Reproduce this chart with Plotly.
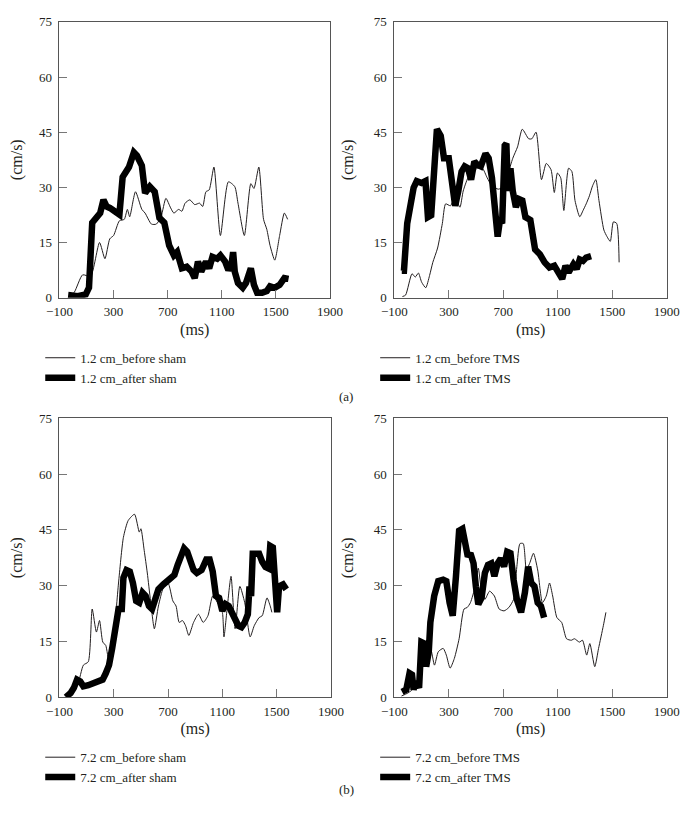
import plotly.graph_objects as go

# ---- data (ms, cm/s) ----
# (a) 1.2 cm, sham
a_sham_before_x = [-24, 10, 71, 130, 196, 236, 272, 300, 343, 379, 402, 419, 462, 509, 533, 580, 616, 651, 687,
                   722, 746, 781, 805, 829, 864, 900, 936, 959, 983, 1007, 1042, 1090, 1149, 1196, 1220, 1267,
                   1315, 1338, 1374, 1409, 1433, 1457, 1492, 1528, 1563, 1587]
a_sham_before_y = [0.4, 1.5, 6.2, 5.8, 15, 10.6, 16, 16.9, 20.9, 21.3, 24, 22, 28.8, 24, 23, 20, 20, 22, 27,
                   24.4, 23, 24, 23.5, 25.7, 26.6, 25.3, 25.7, 24.8, 28.8, 29.3, 35.5, 16.9, 31.5, 30.2, 25.7, 16.9,
                   31, 29.7, 35.5, 21.3, 18.6, 14.2, 10.2, 16.9, 23, 21.3]
a_sham_after_x = [-36, 35, 94, 118, 142, 177, 201, 225, 248, 272, 308, 343, 367, 391, 414, 450, 473, 509, 533,
                  568, 604, 639, 675, 711, 746, 770, 805, 841, 877, 900, 924, 948, 983, 1007, 1031, 1066, 1090,
                  1125, 1149, 1172, 1184, 1196, 1220, 1255, 1279, 1315, 1338, 1362, 1398, 1433, 1457, 1492, 1528,
                  1563, 1594]
a_sham_after_y = [0.7, 0.4, 0.9, 2.7, 20.4, 22.2, 23, 26.6, 24.8, 24.4, 23.5, 22.6, 32.8, 34.6, 35.5, 39.5, 38.6,
                  35.9, 28.4, 30.2, 28.8, 21.7, 20.4, 14.2, 11.5, 12.4, 8, 8.4, 7.1, 5.3, 9.8, 7.1, 9.8, 8, 11.1,
                  10.6, 11.5, 9.8, 7.5, 8.9, 12.4, 7.1, 4, 2.7, 4, 8, 3.5, 1.3, 1.3, 1.8, 3.1, 2.7, 3.5, 5.3, 5.1]

# (a) 1.2 cm, TMS
a_tms_before_x = [-41, -18, 29, 53, 76, 100, 130, 158, 182, 217, 252, 276, 311, 346, 381, 405, 440, 475, 510,
                  546, 581, 616, 663, 710, 733, 769, 804, 839, 886, 909, 940, 980, 1015, 1050, 1074, 1097, 1121,
                  1144, 1179, 1203, 1226, 1261, 1285, 1308, 1332, 1355, 1379, 1402, 1438, 1461, 1485, 1508, 1532,
                  1550]
a_tms_before_y = [0.3, 0.7, 6.5, 5.6, 6.7, 4.2, 2.7, 6, 9.6, 13.5, 20.2, 25.5, 25, 27.3, 24.6, 29, 32.6, 34.3,
                  35.2, 35.2, 32.6, 30.4, 29.5, 30.4, 33.5, 37.9, 41, 45.8, 43.2, 43.2, 45, 32.1, 36.5, 34.8, 28.6,
                  33.9, 32.6, 23.7, 35.2, 34.3, 26.4, 22, 23.7, 25.5, 27.7, 30.4, 32.1, 26.4, 18.4, 16.6, 15.3,
                  20.6, 20.2, 9.6]
a_tms_after_x = [-46, -30, -6, 17, 41, 64, 100, 128, 146, 170, 193, 212, 240, 264, 299, 323, 346, 369, 393, 416,
                 440, 463, 487, 510, 534, 569, 592, 616, 639, 658, 675, 691, 710, 722, 733, 752, 769, 792, 815,
                 839, 862, 898, 933, 968, 1003, 1038, 1074, 1109, 1132, 1156, 1179, 1214, 1238, 1261, 1285, 1308,
                 1344]
a_tms_after_y = [7.3, 7.3, 20.2, 25.5, 29.9, 31.7, 31.2, 31.7, 21.9, 22.4, 39.6, 45.8, 44, 37.9, 37.9, 31.7, 25,
                 29, 34.3, 35.7, 35.2, 32.1, 37, 36.1, 35.7, 39.2, 37.9, 32.6, 21.1, 16.6, 21.1, 20.2, 41.4, 41.9,
                 29, 35.2, 29, 24.6, 26.8, 26.4, 21.9, 21.1, 13.1, 11.8, 9.6, 8.2, 8.7, 6.9, 5.1, 8.7, 6.9, 9.1,
                 7.8, 10.4, 10, 10.9, 11.3]

# (b) 7.2 cm, sham
b_sham_before_x = [-60, -13, 34, 76, 112, 141, 172, 195, 219, 241, 265, 300, 335, 371, 406, 453, 488, 500, 524,
                   547, 571, 599, 629, 665, 700, 735, 759, 782, 806, 829, 853, 888, 924, 959, 994, 1029, 1065,
                   1100, 1112, 1135, 1164, 1194, 1229, 1265, 1305, 1335, 1371, 1394, 1429, 1453, 1465]
b_sham_before_y = [0.3, 1.6, 3.4, 8.6, 9.5, 23.7, 17.5, 20.6, 14.8, 13.9, 9.5, 16.6, 30.7, 43, 47.5, 49.2, 44.4,
                   45.3, 39.5, 33.4, 25.9, 18.4, 24.5, 29.4, 30.7, 25.9, 24.5, 20.1, 20.6, 19.2, 16.6, 20.1, 22.3,
                   20.1, 21.9, 27.2, 25.4, 22.8, 16.2, 23.7, 32.5, 18.4, 29.8, 25.4, 16.2, 19.2, 21.4, 21.9, 26.7,
                   24.5, 22.8]
b_sham_after_x = [-53, -18, 6, 29, 53, 76, 112, 147, 182, 218, 241, 265, 288, 312, 335, 359, 371, 394, 418, 441,
                  465, 488, 512, 535, 559, 582, 606, 629, 665, 688, 724, 747, 771, 794, 818, 841, 865, 888, 912,
                  947, 982, 1006, 1029, 1053, 1076, 1100, 1124, 1147, 1182, 1218, 1241, 1265, 1288, 1300, 1312,
                  1324, 1347, 1371, 1394, 1418, 1441, 1453, 1472, 1488, 1504, 1518, 1547, 1571]
b_sham_after_y = [0, 1.1, 2.5, 4.7, 4.2, 2.9, 3.2, 3.8, 4.4, 4.7, 6.4, 8.6, 13.1, 19.2, 23.7, 23.7, 32.1, 34.2,
                  33.8, 30.7, 25.9, 25.4, 28.1, 27.2, 24.5, 23.7, 26.3, 29, 30.3, 31.2, 32, 32.9, 35.6, 38.2, 40,
                  39.1, 37, 34.2, 33.4, 34.2, 37, 37, 33.8, 27.2, 26.7, 23.2, 25, 24.5, 21.9, 19.2, 18.8, 20.1,
                  22.3, 29.8, 27.2, 38.6, 38.6, 38.6, 36.4, 35, 34.6, 40.7, 40.3, 29.8, 22.8, 29.8, 30.3, 29]

# (b) 7.2 cm, TMS
b_tms_before_x = [-48, -1, 46, 81, 116, 164, 194, 222, 258, 281, 309, 340, 375, 411, 434, 458, 493, 516, 535,
                  564, 599, 634, 669, 705, 740, 775, 799, 822, 846, 869, 893, 921, 952, 987, 1015, 1039, 1062,
                  1093, 1128, 1164, 1199, 1222, 1258, 1281, 1312, 1335, 1371, 1399, 1434, 1453]
b_tms_before_y = [0.3, 1.1, 2.5, 6, 10.4, 13.1, 8.6, 12.2, 13.1, 11.3, 7.8, 10.4, 15.7, 23.7, 24.1, 25.4, 29.8,
                  34.7, 29.8, 26.3, 28.5, 27.2, 23.7, 23.2, 24.1, 26.3, 35.1, 41.3, 41.3, 34.2, 36, 38.7, 34.2,
                  25.4, 27.2, 30.7, 27.2, 21.4, 20.1, 15.7, 15.3, 15.7, 14.8, 15.3, 11.3, 14.4, 8.2, 13.1, 19.2,
                  22.8]
b_tms_after_x = [-44, -13, 11, 29, 41, 58, 81, 98, 121, 133, 152, 164, 192, 222, 258, 281, 305, 328, 352, 375,
                 399, 418, 439, 458, 481, 498, 516, 540, 564, 587, 611, 634, 658, 681, 705, 728, 752, 775, 799,
                 830, 858, 882, 905, 928, 952, 976, 999]
b_tms_after_y = [1.4, 2, 6.4, 6, 2, 4.2, 2.5, 14.8, 14.4, 8.2, 12.2, 20.1, 27.2, 31.2, 31.6, 31.2, 25.4, 21.9,
                 32.5, 44.8, 45.3, 42.2, 37.8, 38.7, 36, 29.8, 25, 26.7, 33.4, 35.6, 36, 32.5, 36, 37.3, 35.1,
                 39.1, 38.7, 31.6, 26.3, 22.8, 28.1, 35.1, 30.7, 29.8, 25.4, 24.5, 21.4]

x_ticks = [-100, 300, 700, 1100, 1500, 1900]
y_ticks = [0, 15, 30, 45, 60, 75]

panels = [
    ("1.2 cm_before sham", a_sham_before_x, a_sham_before_y, "1.2 cm_after sham", a_sham_after_x, a_sham_after_y),
    ("1.2 cm_before TMS", a_tms_before_x, a_tms_before_y, "1.2 cm_after TMS", a_tms_after_x, a_tms_after_y),
    ("7.2 cm_before sham", b_sham_before_x, b_sham_before_y, "7.2 cm_after sham", b_sham_after_x, b_sham_after_y),
    ("7.2 cm_before TMS", b_tms_before_x, b_tms_before_y, "7.2 cm_after TMS", b_tms_after_x, b_tms_after_y),
]

# the page body has an 8px margin, so the figure is drawn 8px smaller and positions are shifted
OFF = 8
W, H = 700 - OFF, 816 - OFF
FONT = "Liberation Serif"
INK = "#231f20"


def px(v):
    return v - OFF


# pixel boxes of the four plot areas in the page (left, right, top, bottom)
boxes = [(48, 329, 15, 296), (396, 679, 15, 296), (48, 330, 419, 703), (396, 679, 419, 703)]

fig = go.Figure()
layout = dict(
    width=W, height=H,
    margin=dict(l=0, r=0, t=0, b=0),
    paper_bgcolor="white", plot_bgcolor="white",
    font=dict(family=FONT, size=13, color=INK),
)

for i, (n1, x1, y1, n2, x2, y2) in enumerate(panels):
    k = "" if i == 0 else str(i + 1)
    leg = "legend" if i == 0 else f"legend{i + 1}"
    fig.add_trace(go.Scatter(x=x1, y=y1, mode="lines", name=n1,
                             line=dict(color=INK, width=1, shape="spline", smoothing=0.6),
                             xaxis="x" + k, yaxis="y" + k, legend=leg))
    fig.add_trace(go.Scatter(x=x2, y=y2, mode="lines", name=n2,
                             line=dict(color="black", width=6.5),
                             xaxis="x" + k, yaxis="y" + k, legend=leg))

    l, r, t, b = [px(v) for v in boxes[i]]
    common = dict(showline=True, linecolor="#555555", linewidth=1, mirror=True,
                  ticks="inside", ticklen=8, tickcolor="#777777", tickwidth=1,
                  showgrid=False, zeroline=False, tickfont=dict(size=13, color=INK))
    layout["xaxis" + k] = dict(domain=[l / W, r / W], range=[-100, 1900], tickvals=x_ticks,
                               ticktext=[str(v).replace("-", "\u2212") for v in x_ticks],
                               ticklabelstandoff=2,
                               anchor="y" + k, title=dict(text="(ms)", standoff=5), **common)
    layout["yaxis" + k] = dict(domain=[1 - b / H, 1 - t / H], range=[0, 75], tickvals=y_ticks,
                               ticklabelstandoff=4,
                               anchor="x" + k, title=dict(text="(cm/s)", standoff=16), **common)
    layout[leg] = dict(x=(l - 20) / W, xanchor="left", y=1 - (b + 46) / H, yanchor="top",
                       bgcolor="rgba(0,0,0,0)", font=dict(size=13), tracegroupgap=0)

layout["annotations"] = [
    dict(text="(a)", x=px(346) / W, y=1 - px(397) / H, xref="paper", yref="paper", showarrow=False,
         xanchor="center", yanchor="middle", font=dict(size=13)),
    dict(text="(b)", x=px(346) / W, y=1 - px(797) / H, xref="paper", yref="paper", showarrow=False,
         xanchor="center", yanchor="middle", font=dict(size=13)),
]

fig.update_layout(**layout)
fig.write_html("out.html")
